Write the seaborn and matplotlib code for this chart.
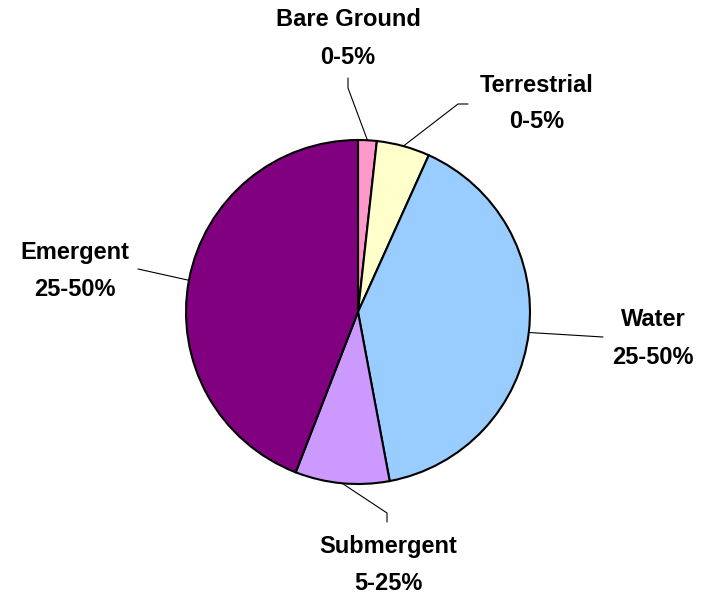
import numpy as np
import seaborn as sns
import matplotlib.pyplot as plt

categories = ['Bare Ground', 'Terrestrial', 'Water', 'Submergent', 'Emergent']
shares = [1.75, 5.0, 40.3, 8.85, 44.1]
ranges = ['0-5%', '0-5%', '25-50%', '5-25%', '25-50%']
colors = ['#FF99CC', '#FFFFCC', '#99CCFF', '#CC99FF', '#800080']

sns.set_theme(style='white')
plt.rcParams['font.family'] = ['Liberation Sans', 'DejaVu Sans']

W, H = 701, 594
fig = plt.figure(figsize=(W / 100, H / 100), dpi=100)
ax = fig.add_axes([0, 0, 1, 1])
ax.set_axis_off()

cx, cy, r = 358, H - 312, 172
wedges, _ = ax.pie(shares, colors=colors, startangle=90, counterclock=False,
                   center=(cx, cy), radius=r,
                   wedgeprops=dict(edgecolor='black', linewidth=1.5))
ax.set_xlim(0, W)
ax.set_ylim(0, H)
ax.set_aspect('equal')

# label centre (name line), elbow point, end of leader, pixels from top-left
label_pos = [(348, 20), (537, 85), (653, 320), (388, 546), (75, 253)]
elbows = [((348, 88), (348, 78)), ((458, 104), (468, 104)),
          ((603, 337), (603, 337)), ((387, 513), (387, 522)),
          ((138, 269), (138, 269))]

for w, name, rg, (tx, ty), (e1, e2) in zip(wedges, categories, ranges, label_pos, elbows):
    mid = np.deg2rad((w.theta1 + w.theta2) / 2)
    sx, sy = cx + r * np.cos(mid), cy + r * np.sin(mid)
    ax.plot([sx, e1[0], e2[0]], [sy, H - e1[1], H - e2[1]], color='black', lw=0.8)
    ax.text(tx, H - ty, name, ha='center', va='center', color='black',
            fontsize=17, fontweight='bold')
    ax.text(tx, H - ty - 37, rg, ha='center', va='center', color='black',
            fontsize=17, fontweight='bold')

fig.savefig('out.png', dpi=100)
